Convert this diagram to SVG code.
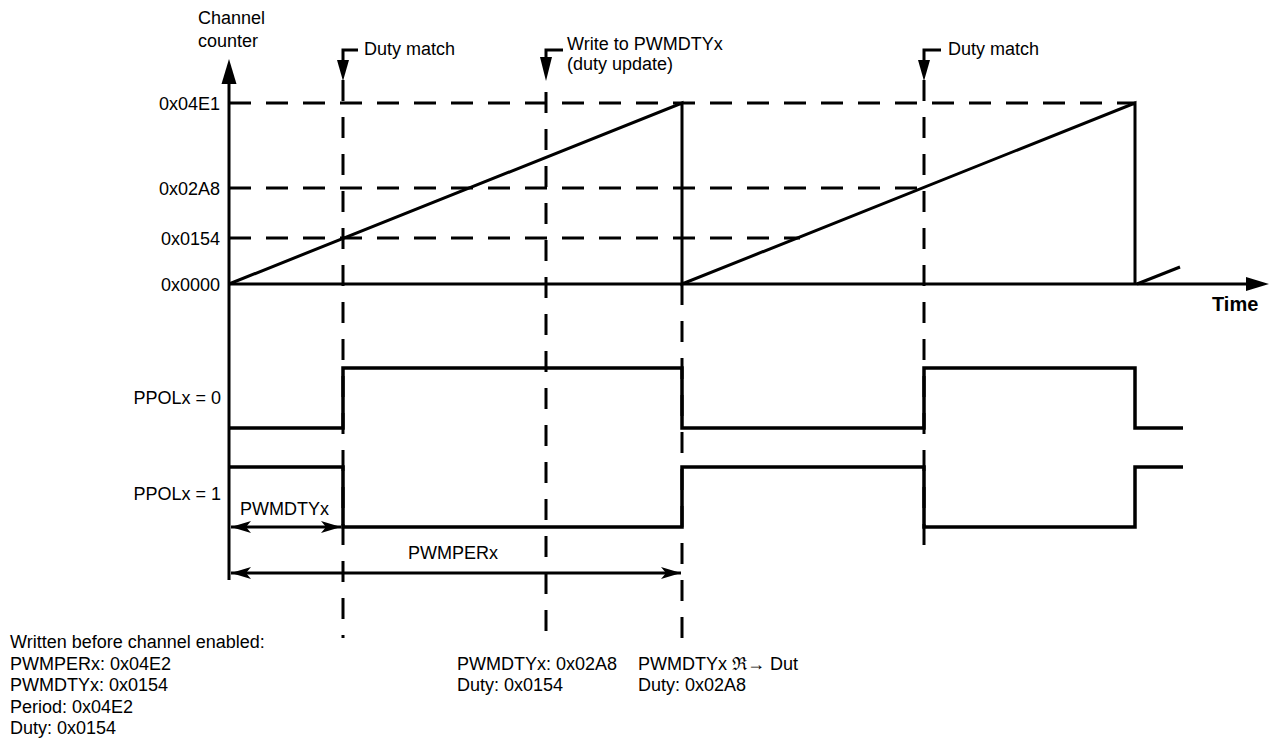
<svg xmlns="http://www.w3.org/2000/svg" width="1270" height="738" viewBox="0 0 1270 738">
<style>
text{font-family:"Liberation Sans",Arial,Helvetica,sans-serif;font-size:18px;fill:#000}
.r{text-anchor:end}
.b{font-weight:bold;font-size:20px}
.s{fill:none;stroke:#000;stroke-width:3}
.w{fill:none;stroke:#000;stroke-width:3.5}
.dh{fill:none;stroke:#000;stroke-width:3;stroke-dasharray:22 15}
.dv{fill:none;stroke:#000;stroke-width:3;stroke-dasharray:21 16}
</style>
<defs>
<marker id="ah" viewBox="0 0 20 12" refX="20" refY="6" markerWidth="20" markerHeight="12" markerUnits="userSpaceOnUse" orient="auto-start-reverse">
<path d="M0,0 L20,6 L0,12 L5,6 Z" fill="#000"/>
</marker>
</defs>
<rect width="1270" height="738" fill="#fff"/>
<g id="axes">
<path class="s" d="M229,80 V580"/>
<polygon points="229,59 221.5,84 236.5,84" fill="#000"/>
<path class="s" d="M229,284 H1250"/>
<polygon points="1269,284 1246,277 1246,291" fill="#000"/>
</g>
<g id="gridlines">
<path class="dh" d="M229,103 H1135"/>
<path class="dh" d="M229,188 H924"/>
<path class="dh" d="M229,238 H800"/>
<path class="dv" d="M343,80 V638"/>
<path class="dv" d="M546,92 V642"/>
<path class="dv" d="M682,284 V638"/>
<path class="dv" d="M924,80 V550"/>
</g>
<g id="counter">
<path class="s" d="M229,284 L682,103 V284 L1135,103 V284"/>
<path class="s" d="M1137,284 L1180,267"/>
</g>
<g id="ppol0">
<path class="w" d="M229,428 H343 V368 H682 V428 H924 V368 H1135 V428 H1183"/>
</g>
<g id="ppol1">
<path class="w" d="M229,467 H343 V527 H682 V467 H924 V527 H1135 V467 H1183"/>
</g>
<g id="connectors">
<path class="s" d="M358,50 H343 V64"/>
<polygon points="343,81 337,60 349,60" fill="#000"/>
<path class="s" d="M563,50 H546 V60"/>
<polygon points="546,81 540,57 552,57" fill="#000"/>
<path class="s" d="M941,50 H924 V64"/>
<polygon points="924,81 918,60 930,60" fill="#000"/>
<path class="s" d="M231,527 H341" marker-start="url(#ah)" marker-end="url(#ah)"/>
<path class="s" d="M231,573 H681" marker-start="url(#ah)" marker-end="url(#ah)"/>
</g>
<g id="label-axis">
<text x="198" y="24">Channel</text>
<text x="198" y="47">counter</text>
<text x="1212" y="311" class="b">Time</text>
</g>
<g id="label-levels">
<text x="220" y="109.5" class="r">0x04E1</text>
<text x="220" y="194.5" class="r">0x02A8</text>
<text x="220" y="244.5" class="r">0x0154</text>
<text x="220" y="290.5" class="r">0x0000</text>
<text x="221" y="403.5" class="r">PPOLx = 0</text>
<text x="221" y="499.5" class="r">PPOLx = 1</text>
</g>
<g id="label-events">
<text x="364" y="55">Duty match</text>
<text x="567" y="50">Write to PWMDTYx</text>
<text x="567" y="70">(duty update)</text>
<text x="948" y="55">Duty match</text>
</g>
<g id="label-spans">
<text x="240" y="514.5">PWMDTYx</text>
<text x="408" y="559">PWMPERx</text>
</g>
<g id="notes">
<text x="10" y="648">Written before channel enabled:</text>
<text x="10" y="670">PWMPERx: 0x04E2</text>
<text x="10" y="691">PWMDTYx: 0x0154</text>
<text x="10" y="713">Period: 0x04E2</text>
<text x="10" y="734">Duty: 0x0154</text>
<text x="457" y="670">PWMDTYx: 0x02A8</text>
<text x="457" y="691">Duty: 0x0154</text>
<text x="638" y="670">PWMDTYx ℜ→ Dut</text>
<text x="638" y="691">Duty: 0x02A8</text>
</g>
</svg>
